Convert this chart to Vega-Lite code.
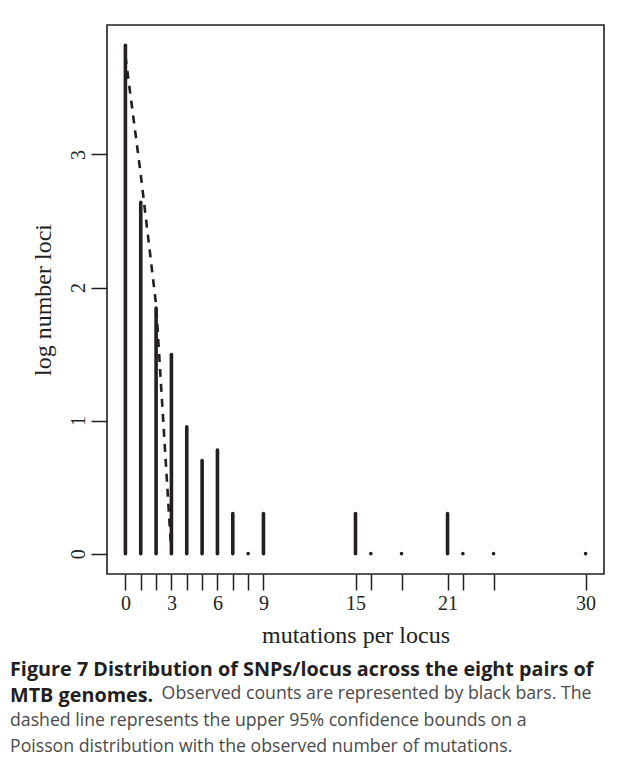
{
  "$schema": "https://vega.github.io/schema/vega-lite/v6.json",
  "width": 497,
  "height": 549,
  "autosize": {"type": "none"},
  "padding": {"left": 107, "top": 25, "right": 20, "bottom": 195},
  "background": "white",
  "datasets": {
    "bars": [
      {"k": 0, "logn": 3.82}, {"k": 1, "logn": 2.64}, {"k": 2, "logn": 1.845}, {"k": 3, "logn": 1.497},
      {"k": 4, "logn": 0.954}, {"k": 5, "logn": 0.699}, {"k": 6, "logn": 0.778}, {"k": 7, "logn": 0.301},
      {"k": 8, "logn": 0}, {"k": 9, "logn": 0.301}, {"k": 15, "logn": 0.301}, {"k": 16, "logn": 0},
      {"k": 18, "logn": 0}, {"k": 21, "logn": 0.301}, {"k": 22, "logn": 0}, {"k": 24, "logn": 0}, {"k": 30, "logn": 0}
    ],
    "bound": [
      {"k": 0, "logn": 3.74}, {"k": 1, "logn": 2.85}, {"k": 2, "logn": 1.87}, {"k": 3, "logn": 0.0}
    ]
  },
  "title": {
    "text": ["Figure 7 Distribution of SNPs/locus across the eight pairs of", "MTB genomes."],
    "subtitle": ["\u200b\u00a0\u00a0\u00a0\u00a0\u00a0\u00a0\u00a0\u00a0\u00a0\u00a0\u00a0\u00a0\u00a0\u00a0\u00a0\u00a0\u00a0\u00a0\u00a0\u00a0\u00a0\u00a0\u00a0\u00a0\u00a0\u00a0\u00a0\u00a0\u00a0\u00a0\u00a0\u00a0\u00a0Observed counts are represented by black bars. The", "dashed line represents the upper 95% confidence bounds on a", "Poisson distribution with the observed number of mutations."],
    "orient": "bottom",
    "anchor": "start",
    "frame": "bounds",
    "dx": -21,
    "offset": 13,
    "font": "Open Sans",
    "fontSize": 19.8,
    "fontWeight": "bold",
    "color": "#231f20",
    "lineHeight": 26.3,
    "subtitleFont": "Open Sans",
    "subtitleFontSize": 17.7,
    "subtitleFontWeight": "normal",
    "subtitleColor": "#4a4a4a",
    "subtitleLineHeight": 26.6,
    "subtitlePadding": -21
  },
  "encoding": {
    "x": {
      "field": "k", "type": "quantitative",
      "scale": {"domain": [-1.2, 31.2], "nice": false, "zero": false},
      "axis": {
        "values": [0, 1, 2, 3, 4, 5, 6, 7, 8, 9, 15, 16, 18, 21, 22, 24, 30],
        "format": "d",
        "labelExpr": "indexof([0, 3, 6, 9, 15, 21, 30], datum.value) >= 0 ? datum.label : ''",
        "title": "mutations per locus",
        "titleFont": "Liberation Serif", "titleFontSize": 24, "titleFontWeight": "normal", "titleColor": "#231f20",
        "labelFont": "Liberation Serif", "labelFontSize": 20, "labelColor": "#231f20",
        "tickSize": 16, "tickWidth": 1.5, "tickColor": "#231f20",
        "domain": false, "grid": false, "labelPadding": 3, "titlePadding": 10,
        "labelFlush": false, "labelOverlap": false
      }
    },
    "y": {
      "field": "logn", "type": "quantitative",
      "scale": {"domain": [-0.1528, 3.9728], "nice": false, "zero": false},
      "axis": {
        "values": [0, 1, 2, 3],
        "format": "d",
        "title": "log number loci",
        "titleFont": "Liberation Serif", "titleFontSize": 24, "titleFontWeight": "normal", "titleColor": "#231f20",
        "labelFont": "Liberation Serif", "labelFontSize": 20, "labelColor": "#231f20",
        "labelAngle": -90, "labelAlign": "center", "labelBaseline": "alphabetic",
        "tickSize": 16, "tickWidth": 1.5, "tickColor": "#231f20",
        "domain": false, "grid": false, "labelPadding": 7, "titlePadding": 13,
        "labelFlush": false, "labelOverlap": false
      }
    }
  },
  "layer": [
    {
      "data": {"name": "bars"},
      "mark": {"type": "rule", "strokeWidth": 3.6, "strokeCap": "round", "color": "#231f20"},
      "encoding": {
        "y2": {"datum": 0}
      }
    },
    {
      "data": {"name": "bound"},
      "mark": {"type": "line", "strokeWidth": 2.6, "strokeDash": [8, 7], "color": "#231f20"},
      "encoding": {}
    }
  ],
  "config": {
    "view": {"stroke": "#231f20", "strokeWidth": 1.6}
  }
}
